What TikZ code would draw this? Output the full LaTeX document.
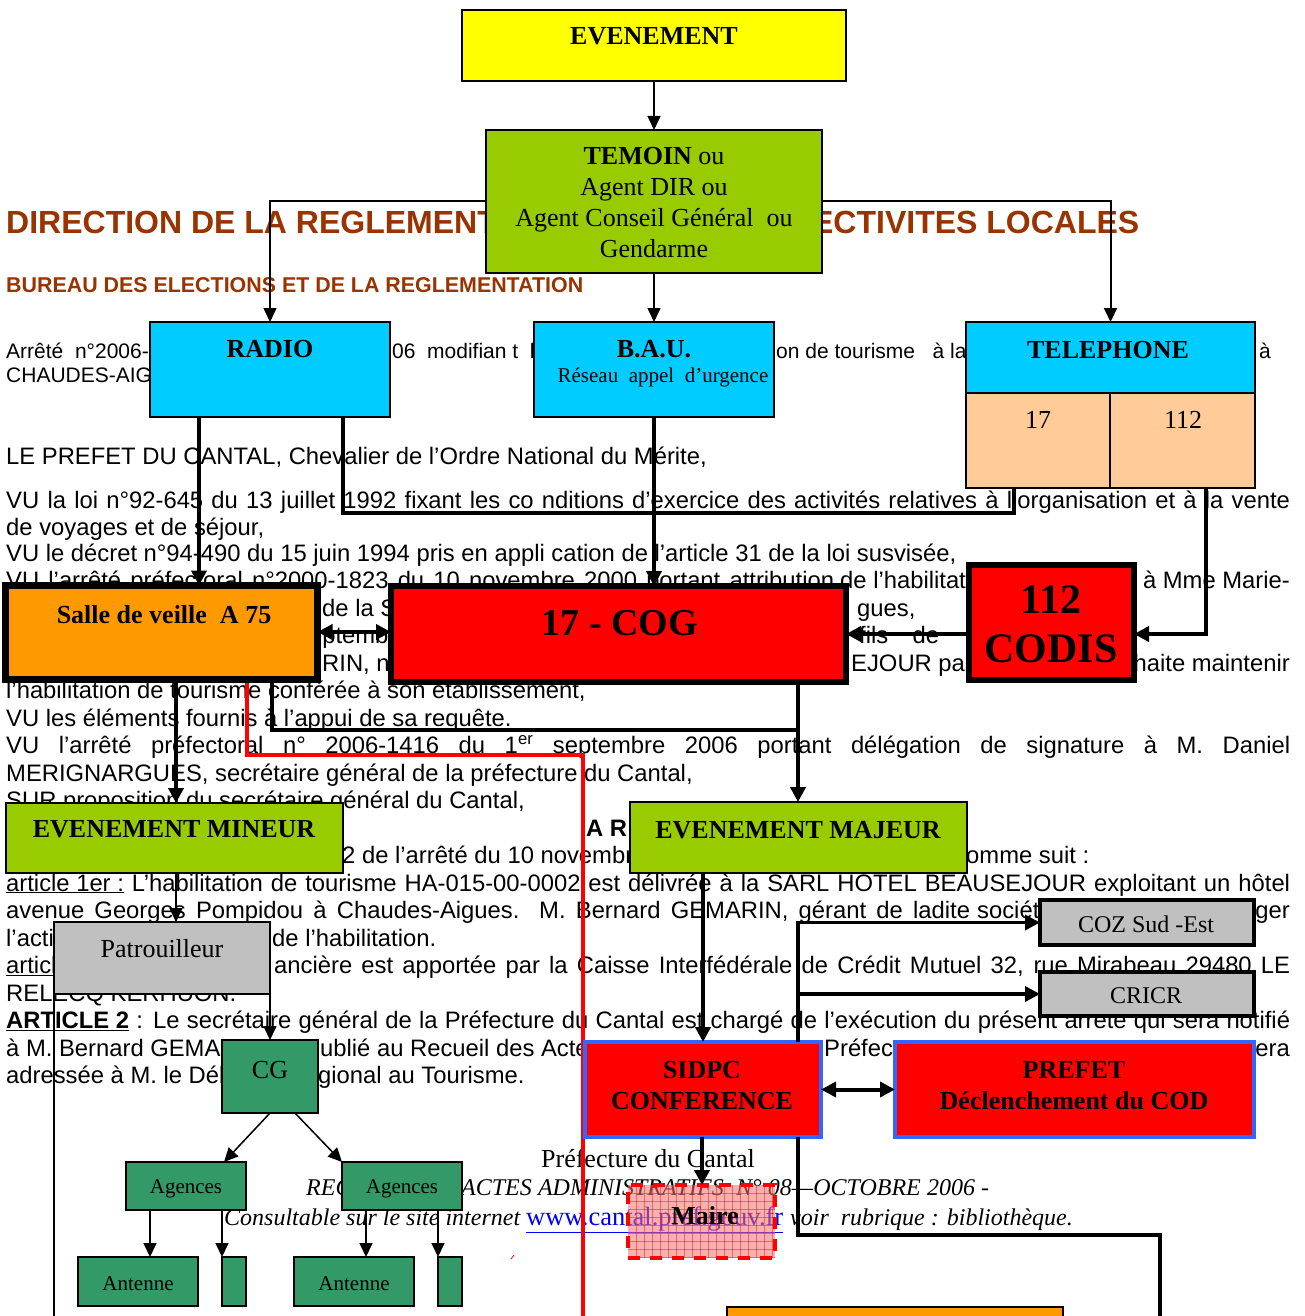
\documentclass[tikz,border=0pt]{standalone}
\usepackage{fontspec}
\setmainfont{Liberation Serif}
\newfontfamily\arialf{Liberation Sans}
\usetikzlibrary{arrows.meta}
\definecolor{brownT}{RGB}{153,51,0}
\definecolor{yelB}{RGB}{255,255,0}
\definecolor{lgreen}{RGB}{153,204,0}
\definecolor{cyanB}{RGB}{0,204,255}
\definecolor{peach}{RGB}{255,204,153}
\definecolor{orangeB}{RGB}{255,153,0}
\definecolor{redB}{RGB}{255,0,0}
\definecolor{greyB}{RGB}{192,192,192}
\definecolor{dgreen}{RGB}{51,153,102}
\definecolor{blueB}{RGB}{51,102,255}
\definecolor{urlblue}{RGB}{0,0,255}
\definecolor{mairefill}{RGB}{255,110,110}
\tikzset{
  box/.style={draw=black, line width=1.5pt, anchor=north west, inner sep=0pt, outer sep=0pt},
  heavybox/.style={box, line width=6.5pt},
  midbox/.style={box, line width=3.5pt},
  bluebox/.style={box, draw=blueB, line width=4.5pt, fill=redB},
  lbl/.style={anchor=base, inner sep=0pt, font=\fontsize{26}{30}\selectfont},
  blbl/.style={anchor=base, inner sep=0pt, font=\bfseries\fontsize{26}{30}\selectfont},
  slbl/.style={anchor=base, inner sep=0pt, font=\fontsize{21}{24}\selectfont},
  bt/.style={anchor=base west, inner sep=0pt, font=\arialf\fontsize{23.8}{28}\selectfont},
  btr/.style={bt, anchor=base east},
  bts/.style={bt, font=\arialf\fontsize{21}{25}\selectfont},
  ft/.style={anchor=base west, inner sep=0pt, font=\itshape\fontsize{24}{28}\selectfont},
  thinarrow/.style={line width=1.5pt, -{Triangle[length=14pt,width=13pt]}},
  thickarrow/.style={line width=4pt, -{Triangle[length=15pt,width=15pt]}},
  thickdouble/.style={line width=4pt, {Triangle[length=15pt,width=15pt]}-{Triangle[length=15pt,width=15pt]}},
  midarrow/.style={line width=3.5pt, -{Triangle[length=15pt,width=15pt]}},
}
\begin{document}
\begin{tikzpicture}[x=1pt,y=-1pt]
\useasboundingbox (0,0) rectangle (1305,1316);
\clip (0,0) rectangle (1305,1316);
\fill[white] (0,0) rectangle (1305,1316);

% ---------- document text behind the chart ----------
\node[anchor=base west, inner sep=0pt, text=brownT, font=\arialf\bfseries\fontsize{32}{36}\selectfont] (hdA) at (6,233) {DIRECTION DE LA REGLEMENTATION ET DES COLLECTIVITES LOCALES};
\node[anchor=base west, inner sep=0pt, text=brownT, font=\arialf\bfseries\fontsize{21.4}{24}\selectfont] (hdB) at (6,292) {BUREAU DES ELECTIONS ET DE LA REGLEMENTATION};

\node[bts] (ta1) at (6,358) {Arrêté\ \ n°2006-};
\node[bts] (ta2) at (392,358) {06\ \ modifian t\ \ l’a};
\node[bts] (ta3) at (776,358) {on de tourisme\ \ \ à la};
\node[bts] (ta4) at (1259,358) {à};
\node[bts] (tb1) at (6,382) {CHAUDES-AIGUES};
\node[bt] (tc1) at (6,464) {LE PREFET DU CANTAL, Chevalier de l’Ordre National du Mérite,};
\node[bt] (td1) at (6,508) {\makebox[1284pt][s]{VU la loi n°92-645 du 13 juillet 1992 fixant les co nditions d’exercice des activités relatives à l’organisation et à la vente}};
\node[bt] (te1) at (6,535) {de\ voyages\ et\ de\ séjour,};
\node[bt] (tf1) at (6,561) {VU le décret n°94-490 du 15 juin 1994 pris en appli cation de l’article 31 de la loi susvisée,};
\node[bt] (tg1) at (6,588.5) {\makebox[828pt][s]{VU l’arrêté préfectoral n°2000-1823 du 10 novembre 2000 portant attribution}};
\node[bt] (tg2) at (840,588.5) {de l’habilitation};
\node[btr] (tg3) at (1290,588.5) {à Mme Marie-};
\node[bt] (th1) at (322,616) {de la SARL};
\node[bt] (th2) at (857,616) {gues,};
\node[bt] (ti1) at (297,643.5) {septembre};
\node[bt] (ti2) at (859,643.5) {\makebox[80pt][s]{fils de}};
\node[bt] (tj1) at (322,671) {RIN, no};
\node[bt] (tj2) at (851,671) {EJOUR pa};
\node[btr] (tj3) at (1290,671) {haite maintenir};
\node[bt] (tk1) at (6,698.5) {l’habilitation de tourisme conférée à son établissement,};
\node[bt] (tl1) at (6,726) {VU les éléments fournis à l’appui de sa requête.};
\node[bt] (tm1) at (6,753.5) {\makebox[1284pt][s]{VU l’arrêté préfectoral n° 2006-1416 du 1\textsuperscript{er} septembre 2006 portant délégation de signature à M. Daniel}};
\node[bt] (tn1) at (6,781) {MERIGNARGUES, secrétaire général de la préfecture du Cantal,};
\node[bt] (to1) at (6,808.5) {SUR proposition du secrétaire général du Cantal,};
\node[bt, font=\arialf\bfseries\fontsize{23.8}{28}\selectfont] (tp1) at (586,836) {A R};
\node[bt] (tq1) at (342,863.5) {2 de l’arrêté du 10 novembre};
\node[bt] (tq2) at (966,863.5) {omme suit :};
\node[bt] (tr1) at (6,891) {\makebox[1284pt][s]{\underline{article 1er :} L’habilitation de tourisme HA-015-00-0002 est délivrée à la SARL HOTEL BEAUSEJOUR exploitant un hôtel}};
\node[bt] (ts1) at (6,918.5) {\makebox[964pt][s]{avenue Georges Pompidou à Chaudes-Aigues. M. Bernard GEMARIN, gérant de ladite}};
\node[bt] (ts2) at (977,918.5) {société};
\node[btr] (ts3) at (1290,918.5) {ger};
\node[bt] (tt1) at (6,946) {l’activité};
\node[bt] (tt2) at (272,946) {de l’habilitation.};
\node[bt] (tu1) at (6,973.5) {\underline{article 2 :}};
\node[bt] (tu2) at (274,973.5) {\makebox[1016pt][s]{ancière est apportée par la Caisse Interfédérale de Crédit Mutuel 32, rue Mirabeau 29480 LE}};
\node[bt] (tv1) at (6,1001) {RELECQ KERHUON.};
\node[bt] (tw1) at (6,1028.5) {\makebox[1284pt][s]{\underline{\textbf{ARTICLE 2}} : Le secrétaire général de la Préfecture du Cantal est chargé de l’exécution du présent arrêté qui sera notifié}};
\node[bt] (tx1) at (6,1056) {à M. Bernard GEMARIN};
\node[bt] (tx2) at (320,1056) {ublié au Recueil des Actes};
\node[bt] (tx3) at (824,1056) {Préfecture};
\node[btr] (tx4) at (1290,1056) {era};
\node[bt] (ty1) at (6,1083.5) {adressée à M. le Délégué};
\node[bt] (ty2) at (318,1083.5) {gional au Tourisme.};

\node[anchor=base, inner sep=0pt, font=\fontsize{26}{30}\selectfont] (fa) at (648,1167) {Préfecture du Cantal};
\node[ft] (fb) at (306,1195) {\makebox[683pt][s]{RECUEIL DES ACTES ADMINISTRATIFS\ \ N° 08—OCTOBRE 2006 -}};
\node[ft] (fc) at (224,1225) {Consultable sur le site internet};
\node[anchor=base west, inner sep=0pt, font=\fontsize{26.5}{30}\selectfont, text=urlblue] (fd) at (526,1225) {\underline{www.cantal.pref.gouv.fr}};
\node[ft, anchor=base east] (fe) at (1073,1225) {voir\ \ rubrique : bibliothèque.};
\draw[redB, line width=0.8pt] (511,1259) -- (514,1255);

% ---------- red line (behind boxes) ----------
\coordinate (redend) at (583,1316);
\draw[redB, line width=4pt] (247,683) -- (247,755) -- (583,755) -- (redend);

% ---------- boxes ----------
\node[box, fill=yelB, minimum width=384pt, minimum height=71pt] (ev) at (462,10) {};
\node[box, line width=2pt, fill=lgreen, minimum width=336pt, minimum height=143pt] (tem) at (486,130) {};
\node[box, fill=cyanB, minimum width=240pt, minimum height=95pt] (radio) at (150,322) {};
\node[box, fill=cyanB, minimum width=240pt, minimum height=95pt] (bau) at (534,322) {};
\node[box, fill=cyanB, minimum width=289pt, minimum height=71pt] (tel) at (966,322) {};
\node[box, fill=peach, minimum width=144pt, minimum height=95pt] (c17) at (966,393) {};
\node[box, fill=peach, minimum width=145pt, minimum height=95pt] (c112) at (1110,393) {};
\node[heavybox, fill=orangeB, minimum width=312pt, minimum height=94pt] (salle) at (5.5,585.5) {};
\node[heavybox, fill=redB, minimum width=455pt, minimum height=96pt] (cog) at (391,586) {};
\node[heavybox, fill=redB, minimum width=165pt, minimum height=115pt] (codis) at (969,565) {};
\node[box, fill=lgreen, minimum width=337pt, minimum height=70pt] (min) at (6,803) {};
\node[box, fill=lgreen, minimum width=337pt, minimum height=71pt] (maj) at (630,802) {};
\node[box, fill=greyB, minimum width=216pt, minimum height=72pt] (pat) at (54,922) {};
\node[box, fill=dgreen, minimum width=96pt, minimum height=73pt] (cg) at (222,1040) {};
\node[box, fill=dgreen, minimum width=120pt, minimum height=48pt] (ag1) at (126,1162) {};
\node[box, fill=dgreen, minimum width=120pt, minimum height=48pt] (ag2) at (342,1162) {};
\node[box, fill=dgreen, minimum width=120pt, minimum height=49pt] (ant1) at (78,1257) {};
\node[box, fill=dgreen, minimum width=24pt, minimum height=49pt] (sm1) at (222,1257) {};
\node[box, fill=dgreen, minimum width=120pt, minimum height=49pt] (ant2) at (294,1257) {};
\node[box, fill=dgreen, minimum width=24pt, minimum height=49pt] (sm2) at (438,1257) {};
\node[midbox, fill=greyB, minimum width=214pt, minimum height=45pt] (coz) at (1040,900) {};
\node[midbox, fill=greyB, minimum width=214pt, minimum height=44pt] (cricr) at (1040,972) {};
\node[bluebox, minimum width=236pt, minimum height=95pt] (sid) at (585,1042) {};
\node[bluebox, minimum width=359pt, minimum height=95pt] (pre) at (895,1042) {};
\node[box, fill=orangeB, minimum width=336pt, minimum height=30pt] (org) at (727,1307) {};

% ---------- connectors ----------
\draw[thinarrow] (ev.south) -- (tem.north);
\draw[thinarrow] (tem.west |- 0,201) -| (radio.north);
\draw[line width=2pt, -{Triangle[length=14pt,width=13pt]}] (tem.east |- 0,201) -| (tel.north);
\draw[thinarrow] (tem.south) -- (bau.north);
\draw[thickarrow] (199,0 |- radio.south) -- (199,0 |- salle.north);
\draw[line width=4pt] (343,0 |- radio.south) -- (343,513) -- (1014,513) -- (1014,0 |- c17.south);
\draw[thickarrow] (bau.south) -- (bau.south |- cog.north);
\draw[thickarrow] (1206,0 |- c112.south) |- (codis.east |- 0,634);
\draw[thickdouble] (salle.east |- 0,632) -- (cog.west |- 0,632);
\draw[thickarrow] (codis.west |- 0,634) -- (cog.east |- 0,634);
\draw[line width=3.5pt] (272,0 |- salle.south) -- (272,730) -- (798,730);
\draw[thickarrow] (798,0 |- cog.south) -- (798,0 |- maj.north);
\draw[thickarrow] (176,0 |- salle.south) -- (176,0 |- min.north);
\draw[thinarrow] (176,0 |- min.south) -- (176,0 |- pat.north);
\draw[thinarrow] (pat.south east) -- (cg.north);
\coordinate (patend) at (54,1316);
\draw[line width=1.5pt] (pat.south west) -- (patend);
\draw[thinarrow] (cg.south) -- (224,0 |- ag1.north);
\draw[thinarrow] (295,0 |- cg.south) -- (ag2.north west);
\draw[thinarrow] (150,0 |- ag1.south) -- (150,0 |- ant1.north);
\draw[thinarrow] (sm1.north west |- ag1.south) -- (sm1.north west);
\draw[thinarrow] (366,0 |- ag2.south) -- (366,0 |- ant2.north);
\draw[thinarrow] (sm2.north west |- ag2.south) -- (sm2.north west);
\draw[thickarrow] (703,0 |- maj.south) -- (703,0 |- sid.north);
\draw[midarrow] (798,0 |- sid.north) |- (coz.west);
\draw[midarrow] (798,0 |- cricr.west) -- (cricr.west);
\draw[thickdouble] (sid.east) -- (pre.west);
\coordinate (bend) at (1160,1316);
\draw[line width=3.5pt] (798,0 |- sid.south) -- (798,1235) -- (1160,1235) -- (bend);

% ---------- labels ----------
\node[blbl] (lev) at (654,45) {EVENEMENT};
\node[lbl] (lt1) at (654,165) {\textbf{TEMOIN} ou};
\node[lbl] (lt2) at (654,196) {Agent DIR ou};
\node[lbl] (lt3) at (654,226) {Agent Conseil Général\ \ ou};
\node[lbl] (lt4) at (654,257) {Gendarme};
\node[blbl] (lradio) at (270,357) {RADIO};
\node[blbl] (lbau) at (654,357) {B.A.U.};
\node[slbl] (lbau2) at (663,382) {Réseau\ \ appel\ \ d’urgence};
\node[blbl] (ltel) at (1108,358) {TELEPHONE};
\node[lbl] (l17) at (1038,428) {17};
\node[lbl] (l112) at (1183,428) {112};
\node[blbl] (lsalle) at (164,623) {Salle de veille\ \ A 75};
\node[anchor=base, inner sep=0pt, font=\bfseries\fontsize{38}{42}\selectfont] (lcog) at (620,635) {17 - COG};
\node[anchor=base, inner sep=0pt, font=\bfseries\fontsize{42}{46}\selectfont] (lcod1) at (1051,613) {112};
\node[anchor=base, inner sep=0pt, font=\bfseries\fontsize{42}{46}\selectfont] (lcod2) at (1051,662) {CODIS};
\node[blbl] (lmin) at (174,837) {EVENEMENT MINEUR};
\node[blbl] (lmaj) at (798,838) {EVENEMENT MAJEUR};
\node[lbl] (lpat) at (162,957) {Patrouilleur};
\node[lbl] (lcg) at (270,1078) {CG};
\node[slbl] (lag1) at (186,1193) {Agences};
\node[slbl] (lag2) at (402,1193) {Agences};
\node[slbl] (lan1) at (138,1290) {Antenne};
\node[slbl] (lan2) at (354,1290) {Antenne};
\node[anchor=base, inner sep=0pt, font=\fontsize{24}{28}\selectfont] (lcoz) at (1146,932) {COZ Sud -Est};
\node[anchor=base, inner sep=0pt, font=\fontsize{24}{28}\selectfont] (lcri) at (1146,1003) {CRICR};
\node[blbl] (lsid1) at (702,1078) {SIDPC};
\node[blbl] (lsid2) at (702,1109) {CONFERENCE};
\node[blbl] (lpre1) at (1074,1078) {PREFET};
\node[blbl] (lpre2) at (1074,1109) {Déclenchement du COD};

% ---------- Maire (translucent) ----------
\node[box, draw=redB, line width=4pt, dash pattern=on 12pt off 10pt, fill=mairefill, fill opacity=0.55, minimum width=147pt, minimum height=73pt] (maire) at (628,1185) {};
\foreach \gx in {636,644,...,772} {\draw[redB, line width=0.5pt, opacity=0.45] (\gx,1185) -- (\gx,1258);}
\foreach \gy in {1193,1201,...,1257} {\draw[redB, line width=0.5pt, opacity=0.45] (628,\gy) -- (775,\gy);}
\node[blbl] (lmaire) at (705,1224) {Maire};
\draw[thickarrow] (702,0 |- sid.south) -- (702,0 |- maire.north);
\end{tikzpicture}
\end{document}
